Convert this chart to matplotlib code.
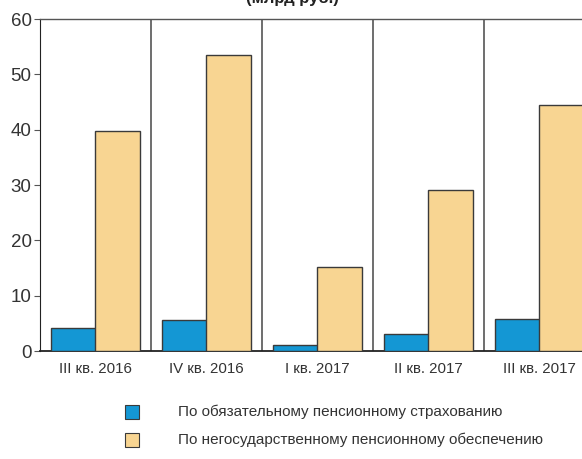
import matplotlib
matplotlib.use('Agg')
from matplotlib import pyplot as plt
from matplotlib.patches import Rectangle
import numpy as np

quarters = ['III кв. 2016', 'IV кв. 2016', 'I кв. 2017', 'II кв. 2017', 'III кв. 2017']
ops_values = [4.1, 5.6, 1.1, 3.1, 5.8]
npo_values = [39.8, 53.5, 15.2, 29.1, 44.5]
series_names = ['По обязательному пенсионному страхованию',
                'По негосударственному пенсионному обеспечению']
y_ticks = [0, 10, 20, 30, 40, 50, 60]

blue = '#1497d4'
sand = '#f8d592'
edge = '#3a3a3a'
text_color = '#333333'

plt.rcParams['font.family'] = ['Liberation Sans Narrow', 'Liberation Sans', 'DejaVu Sans']

fig = plt.figure(figsize=(5.82, 4.59), dpi=100)
ax = fig.add_axes([40 / 582, 108 / 459, 555 / 582, 332 / 459])

x = np.arange(len(quarters))
width = 0.405
ax.bar(x - 0.2, ops_values, width, color=blue, edgecolor=edge, linewidth=1, zorder=3)
ax.bar(x + 0.2, npo_values, width, color=sand, edgecolor=edge, linewidth=1, zorder=3)

# gray separators between quarters
for sep in x[1:] - 0.5:
    ax.axvline(sep, color='#555555', linewidth=1.2, zorder=2)

ax.set_xlim(-0.5, len(quarters) - 0.5)
ax.set_ylim(0, 60)
ax.set_yticks(y_ticks)
ax.set_yticklabels([str(t) for t in y_ticks], fontsize=13.5, color=text_color)
ax.set_xticks(x)
ax.set_xticklabels(quarters, fontsize=10.8, color=text_color)
ax.tick_params(axis='x', length=0, pad=8)
ax.tick_params(axis='y', length=4, width=0.8, color='#555555', pad=2)

for side in ['top', 'right']:
    ax.spines[side].set_color('#555555')
    ax.spines[side].set_linewidth(1.0)
ax.spines['left'].set_color('#222222')
ax.spines['bottom'].set_color('#222222')
ax.spines['bottom'].set_linewidth(1.3)

fig.text(292 / 582, 1 - 3 / 459, '(млрд руб.)', ha='center', va='baseline',
         fontsize=12, fontweight='bold', color='#222222')

# legend drawn by hand
leg_items = [(412, blue), (440, sand)]
for (yy, col), name in zip(leg_items, series_names):
    fig.patches.append(Rectangle((125 / 582, 1 - (yy + 7) / 459), 14 / 582, 14 / 459,
                                 transform=fig.transFigure, facecolor=col,
                                 edgecolor=edge, linewidth=0.8))
    fig.text(178 / 582, 1 - yy / 459, name, ha='left', va='center',
             fontsize=11, color=text_color)

fig.savefig('out.png', dpi=100)
